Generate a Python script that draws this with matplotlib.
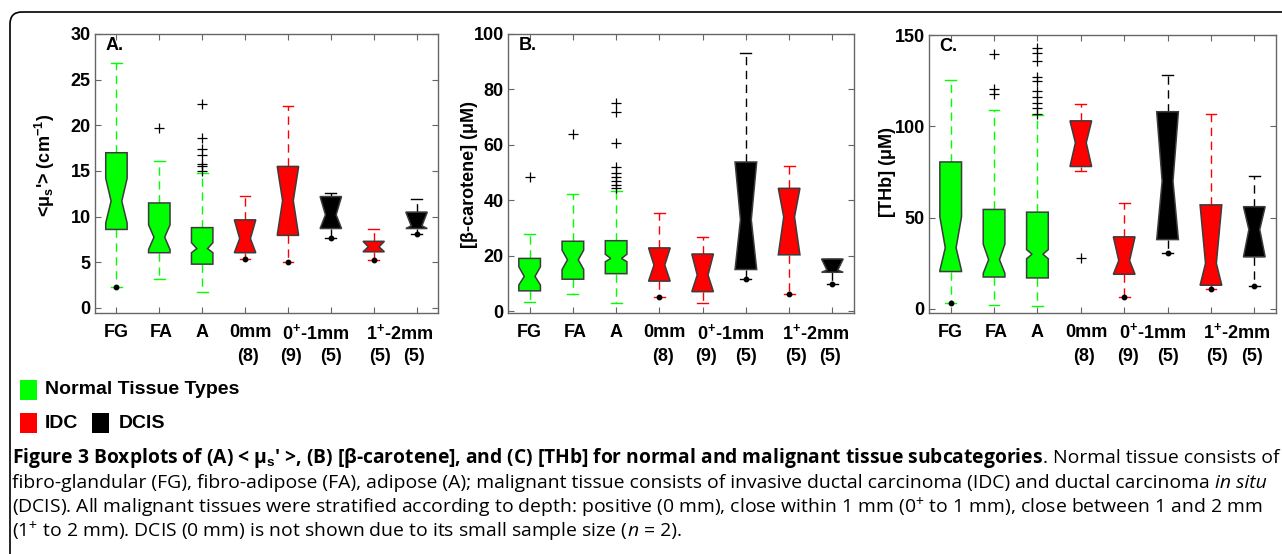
import matplotlib
matplotlib.use("Agg")
import matplotlib.pyplot as plt
from matplotlib.patches import FancyBboxPatch, Rectangle

plt.rcParams["font.family"] = ["Liberation Sans", "DejaVu Sans"]
plt.rcParams["mathtext.fontset"] = "custom"
plt.rcParams["mathtext.rm"] = "Liberation Sans"
plt.rcParams["mathtext.it"] = "Liberation Sans:italic"
plt.rcParams["mathtext.bf"] = "Liberation Sans:bold"

# ---- data -----------------------------------------------------------------------------------
POS = [1, 2, 3, 4, 5, 6, 7, 8]
GROUP = ["normal", "normal", "normal", "idc", "idc", "dcis", "idc", "dcis"]
ROW1 = ["FG", "FA", "A", "0mm", "0$^{\\mathbf{+}}$-1mm", "1$^{\\mathbf{+}}$-2mm"]
ROW1_X = [1, 2.05, 3, 4.12, 5.65, 7.6]
ROW2 = ["(8)", "(9)", "(5)", "(5)", "(5)"]
ROW2_X = [4.08, 5.08, 6.0, 7.15, 7.95]

# A. <mu_s'>
A_Q1 = [8.6, 6.05, 4.8, 6.05, 7.95, 8.7, 6.15, 8.7]
A_MED = [11.7, 7.75, 6.5, 7.6, 11.75, 10.2, 6.7, 9.0]
A_Q3 = [17.0, 11.5, 8.8, 9.65, 15.5, 12.2, 7.3, 10.5]
A_CILO = [9.3, 6.4, 6.05, 6.05, 7.95, 8.7, 6.15, 8.7]
A_CIHI = [14.2, 9.1, 7.15, 9.65, 15.5, 12.2, 7.3, 10.5]
A_LO = [2.3, 3.2, 1.7, 5.4, 5.0, 7.7, 5.3, 8.05]
A_HI = [26.8, 16.1, 14.8, 12.3, 22.1, 12.55, 8.65, 11.9]
A_FLIERS = [[], [19.7], [22.3, 18.6, 17.4, 16.8, 15.8, 15.5, 15.0], [], [], [], [], []]
A_DOT = [True, False, False, True, True, True, True, True]

# B. [beta-carotene]
B_Q1 = [7.3, 11.5, 13.5, 10.8, 7.0, 15.0, 20.3, 14.0]
B_MED = [12.5, 18.5, 19.0, 16.6, 13.0, 33.0, 34.0, 14.8]
B_Q3 = [19.0, 25.2, 25.4, 22.8, 20.6, 53.8, 44.3, 18.8]
B_CILO = [9.4, 15.0, 17.8, 10.8, 7.0, 15.0, 20.3, 14.0]
B_CIHI = [16.0, 22.0, 20.5, 22.8, 20.6, 53.8, 44.3, 18.8]
B_LO = [3.2, 6.2, 2.9, 5.2, 2.8, 11.5, 6.0, 9.6]
B_HI = [27.7, 42.3, 43.3, 35.5, 26.8, 93.2, 52.3, 18.8]
B_FLIERS = [[48.5], [63.8], [75.2, 71.8, 60.5, 52.0, 50.0, 48.5, 47.0, 45.5, 44.5], [], [], [], [], []]
B_DOT = [False, False, False, True, False, True, True, True]

# C. [THb]
C_Q1 = [20.5, 17.5, 17.0, 78.0, 19.0, 38.0, 13.0, 28.5]
C_MED = [33.5, 27.0, 30.0, 91.0, 26.5, 70.0, 25.0, 43.5]
C_Q3 = [80.5, 54.5, 53.0, 103.0, 39.5, 108.0, 57.0, 56.0]
C_CILO = [21.0, 19.5, 27.5, 78.0, 19.0, 38.0, 13.0, 28.5]
C_CIHI = [50.5, 35.5, 32.5, 103.0, 39.5, 108.0, 57.0, 56.0]
C_LO = [3.5, 2.3, 1.5, 75.5, 6.7, 30.5, 11.0, 12.5]
C_HI = [125.5, 109.0, 106.0, 112.0, 58.0, 128.0, 106.5, 73.0]
C_FLIERS = [[], [139.5, 120.5, 117.5],
            [143, 140, 135.5, 127, 125, 119.5, 116, 113, 110, 107], [28.0], [], [], [], []]
C_DOT = [True, False, False, False, True, True, True, True]

COLORS = {"normal": "#00ff00", "idc": "#ff0000", "dcis": "#000000"}
EDGE = "#3c3c3c"
SPINE = "#666666"

W, H = 1282, 554
fig = plt.figure(figsize=(W / 100, H / 100), dpi=100)


def px_axes(l, t, r, b):
    return fig.add_axes([l / W, 1 - b / H, (r - l) / W, (b - t) / H])


def panel(ax, q1, med, q3, cilo, cihi, lo, hi, fliers, dots, ylim, yticks, tag):
    stats = [dict(q1=a, med=m, q3=c, cilo=d, cihi=e, whislo=f, whishi=g, fliers=h)
             for a, m, c, d, e, f, g, h in zip(q1, med, q3, cilo, cihi, lo, hi, fliers)]
    art = ax.bxp(stats, positions=POS, widths=0.5, shownotches=True, patch_artist=True,
                 flierprops=dict(marker="+", markersize=7, markeredgewidth=0.9,
                                 markeredgecolor="k", linestyle="none"),
                 medianprops=dict(linewidth=0))
    for i, g in enumerate(GROUP):
        col = COLORS[g]
        art["boxes"][i].set(facecolor=col, edgecolor=EDGE, linewidth=1.1, zorder=3)
        for wk in art["whiskers"][2 * i:2 * i + 2]:
            wk.set(color=col, linestyle=(0, (6, 4)), linewidth=1.0, zorder=2)
        for cp in art["caps"][2 * i:2 * i + 2]:
            cp.set(color=col, linewidth=1.0, zorder=2)
    xs = [p for p, d in zip(POS, dots) if d]
    ys = [v for v, d in zip(lo, dots) if d]
    ax.plot(xs, ys, "o", color="k", markersize=3.2, zorder=4)

    ax.set_xlim(0.5, 8.5)
    ax.set_ylim(*ylim)
    ax.set_yticks(yticks)
    ax.set_xticks(POS, labels=[""] * len(POS))
    ax.tick_params(direction="in", top=True, right=True, length=4, width=0.8,
                   color=SPINE, labelsize=13, pad=3)
    for lb in ax.get_yticklabels():
        lb.set_fontweight("bold")
    for s in ax.spines.values():
        s.set_color(SPINE)
        s.set_linewidth(1.0)
    ax.text(0.03, 0.96, tag, transform=ax.transAxes, fontsize=13, fontweight="bold",
            va="center", ha="left")
    tr = ax.get_xaxis_transform()
    for x, s in zip(ROW1_X, ROW1):
        ax.text(x, -0.07, s, transform=tr, ha="center", va="center", fontsize=13,
                fontweight="bold")
    for x, s in zip(ROW2_X, ROW2):
        ax.text(x, -0.155, s, transform=tr, ha="center", va="center", fontsize=13,
                fontweight="bold")


axA = px_axes(95, 34, 438, 313)
axB = px_axes(508, 34, 854, 313)
axC = px_axes(929, 35, 1276, 313)
panel(axA, A_Q1, A_MED, A_Q3, A_CILO, A_CIHI, A_LO, A_HI, A_FLIERS, A_DOT,
      (-0.55, 30), [0, 5, 10, 15, 20, 25, 30], "A.")
panel(axB, B_Q1, B_MED, B_Q3, B_CILO, B_CIHI, B_LO, B_HI, B_FLIERS, B_DOT,
      (-0.7, 100), [0, 20, 40, 60, 80, 100], "B.")
panel(axC, C_Q1, C_MED, C_Q3, C_CILO, C_CIHI, C_LO, C_HI, C_FLIERS, C_DOT,
      (-2.2, 150), [0, 50, 100, 150], "C.")

# ---- overlay in pixel coordinates: frame, legend, caption ------------------------------------
ov = fig.add_axes([0, 0, 1, 1], zorder=10)
ov.set_xlim(0, W)
ov.set_ylim(H, 0)
ov.axis("off")
ov.patch.set_alpha(0)

ylab = dict(rotation=90, ha="center", va="center", fontsize=13, fontweight="bold")
ov.text(45, 165, "<μ$_\\mathbf{s}$'> (cm$^{\\mathbf{-1}}$)", **ylab)
ov.text(469, 174, "[β-carotene] (μM)", **ylab)
ov.text(887, 172, "[THb] (μM)", **ylab)

ov.add_patch(FancyBboxPatch((10, 12), 1500, 800, boxstyle="round,pad=0,rounding_size=12",
                            fill=False, edgecolor="k", linewidth=1.2))

ov.add_patch(Rectangle((20, 380), 17, 20, facecolor=COLORS["normal"], edgecolor="none"))
ov.add_patch(Rectangle((20, 413), 17, 20, facecolor=COLORS["idc"], edgecolor="none"))
ov.add_patch(Rectangle((92, 413), 17, 20, facecolor=COLORS["dcis"], edgecolor="none"))
leg = dict(fontsize=14, fontweight="bold", va="center")
ov.text(45, 390, "Normal Tissue Types", **leg)
ov.text(45, 423, "IDC", **leg)
ov.text(119, 423, "DCIS", **leg)

CAP_FONT = ["Open Sans", "DejaVu Sans"]
CAP_X = 12
LINE1_RIGHT, LINE3_RIGHT = 1279, 1264
CAP_Y = [458, 483, 507, 531]
CAPTION = [
    [("Figure 3 Boxplots of (A) < μ$_\\mathbf{s}$′ >, (B) [β-carotene], and (C) [THb] for normal and "
      "malignant tissue subcategories", "bold", "normal"), (". Normal tissue consists of", "normal", "normal")],
    [("fibro-glandular (FG), fibro-adipose (FA), adipose (A); malignant tissue consists of invasive ductal "
      "carcinoma (IDC) and ductal carcinoma ", "normal", "normal"), ("in situ", "normal", "italic")],
    [("(DCIS). All malignant tissues were stratified according to depth: positive (0 mm), close within "
      "1 mm (0$^{+}$ to 1 mm), close between 1 and 2 mm", "normal", "normal")],
    [("(1$^{+}$ to 2 mm). DCIS (0 mm) is not shown due to its small sample size (", "normal", "normal"),
     ("n", "normal", "italic"), (" = 2).", "normal", "normal")],
]
lines = []
for y, parts in zip(CAP_Y, CAPTION):
    prev, row = None, []
    for s, wt, st in parts:
        kw = dict(fontsize=11, fontweight=wt, fontstyle=st, family=CAP_FONT, va="center")
        if prev is None:
            prev = ov.text(CAP_X, y, s, ha="left", **kw)
        else:
            prev = ov.annotate(s, xy=(1, 0.5), xycoords=prev, ha="left", **kw)
        row.append(prev)
    lines.append(row)

# fit caption: regular text to the third line, bold lead-in so the first line fills the frame
r = fig.canvas.get_renderer()
fig.canvas.draw()
sn = 11 * (LINE3_RIGHT - CAP_X) / (lines[2][-1].get_window_extent(r).x1 - CAP_X)
for row in lines:
    for t in row:
        if t.get_fontweight() != "bold":
            t.set_fontsize(sn)
fig.canvas.draw()
bold = lines[0][0]
wb = bold.get_window_extent(r).width
wn = lines[0][1].get_window_extent(r).width
bold.set_fontsize(11 * (LINE1_RIGHT - CAP_X - wn) / wb)

fig.savefig("out.png", dpi=100)
